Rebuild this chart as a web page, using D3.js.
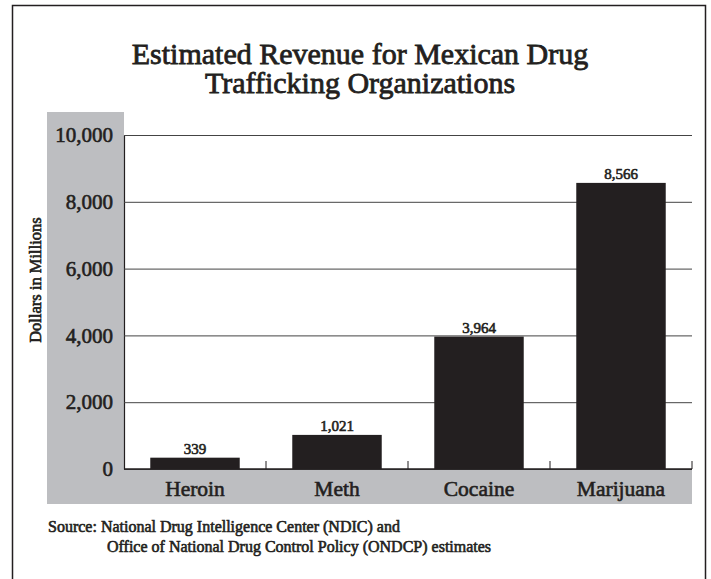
<!DOCTYPE html>
<html>
<head>
<meta charset="utf-8">
<script src="https://cdn.jsdelivr.net/npm/d3@7"></script>
<style>
  body { margin: 0; background: #fff; }
  svg { display: block; font-family: "Liberation Serif", serif; }
  /* regular face with a thin outline, close to the semibold of the original */
  .semi { stroke: #231f20; stroke-width: 0.6; }
  .title { stroke: #231f20; stroke-width: 0.8; }
</style>
</head>
<body>
<div id="chart"></div>
<script>
// data
const categories = ["Heroin", "Meth", "Cocaine", "Marijuana"];
const revenue = [339, 1021, 3964, 8566];
const yTicks = [0, 2000, 4000, 6000, 8000, 10000];
const titleLines = ["Estimated Revenue for Mexican Drug", "Trafficking Organizations"];
const sourceLines = ["Source:  National Drug Intelligence Center (NDIC) and",
  "Office of National Drug Control Policy (ONDCP) estimates"];

const width = 711, height = 579;
const margin = {top: 135, right: 19, bottom: 110, left: 124};
const ink = "#231f20", gray = "#bdbec1";

const svg = d3.select("#chart").append("svg")
  .attr("width", width)
  .attr("height", height);

// frame (bottom edge runs off the page)
svg.append("path")
  .attr("d", `M12.5,${height} V5.5 H705.5 V${height}`)
  .attr("fill", "none")
  .attr("stroke", ink)
  .attr("stroke-width", 1.5);

const x = d3.scaleBand()
  .domain(categories)
  .range([margin.left, width - margin.right])
  .paddingInner(0.37)
  .paddingOuter(0.185);

const y = d3.scaleLinear()
  .domain([0, 10000])
  .range([height - margin.bottom, margin.top]);

// gray bands behind the axes
svg.append("rect")
  .attr("x", 47).attr("y", 112)
  .attr("width", margin.left - 47)
  .attr("height", y(0) + 35 - 112)
  .attr("fill", gray);
svg.append("rect")
  .attr("x", 47).attr("y", y(0))
  .attr("width", width - margin.right - 47)
  .attr("height", 35)
  .attr("fill", gray);

// title, one text per line
svg.append("g")
  .selectAll("text")
  .data(titleLines)
  .join("text")
  .attr("class", "title")
  .attr("x", 360)
  .attr("y", (d, i) => 64 + i * 29)
  .attr("text-anchor", "middle")
  .attr("font-size", 30)
  .attr("fill", ink)
  .text(d => d);

// y gridlines + tick labels
const yAxis = d3.axisLeft(y)
  .tickValues(yTicks)
  .tickFormat(d3.format(","))
  .tickSize(-(width - margin.right - margin.left))
  .tickSizeOuter(0)
  .tickPadding(11);

svg.append("g")
  .attr("transform", `translate(${margin.left},0)`)
  .call(yAxis)
  .call(g => g.select(".domain").attr("stroke", ink).attr("stroke-width", 1.2))
  .call(g => g.selectAll(".tick line").attr("stroke", "#444").attr("stroke-width", 1))
  .call(g => g.selectAll(".tick text")
    .attr("class", "semi")
    .attr("font-size", 21)
    .attr("fill", ink)
    .attr("font-family", "Liberation Serif, serif"));

// x axis with ticks between categories
const xAxisY = y(0);
const boundaries = categories.map((c, i) => margin.left + (i + 1) * x.step());
svg.append("line")
  .attr("x1", margin.left).attr("x2", width - margin.right)
  .attr("y1", xAxisY).attr("y2", xAxisY)
  .attr("stroke", ink).attr("stroke-width", 1.5);
svg.append("g")
  .selectAll("line")
  .data(boundaries)
  .join("line")
  .attr("x1", d => d).attr("x2", d => d)
  .attr("y1", xAxisY).attr("y2", xAxisY - 8)
  .attr("stroke", ink).attr("stroke-width", 1);

// bars
svg.append("g")
  .selectAll("rect")
  .data(revenue)
  .join("rect")
  .attr("x", (d, i) => x(categories[i]))
  .attr("y", d => y(d))
  .attr("width", x.bandwidth())
  .attr("height", d => y(0) - y(d))
  .attr("fill", ink);

// value labels
svg.append("g")
  .selectAll("text")
  .data(revenue)
  .join("text")
  .attr("class", "semi")
  .attr("x", (d, i) => x(categories[i]) + x.bandwidth() / 2)
  .attr("y", d => y(d) - 4)
  .attr("text-anchor", "middle")
  .attr("font-size", 15)
  .attr("fill", ink)
  .text(d => d3.format(",")(d));

// category labels
svg.append("g")
  .selectAll("text")
  .data(categories)
  .join("text")
  .attr("class", "semi")
  .attr("x", d => x(d) + x.bandwidth() / 2)
  .attr("y", xAxisY + 27)
  .attr("text-anchor", "middle")
  .attr("font-size", 21.5)
  .attr("fill", ink)
  .text(d => d);

// y-axis title
svg.append("text")
  .attr("class", "semi")
  .attr("transform", "translate(41,280) rotate(-90)")
  .attr("text-anchor", "middle")
  .attr("font-size", 16.5)
  .attr("fill", ink)
  .text("Dollars in Millions");

// source note
svg.append("g")
  .selectAll("text")
  .data(sourceLines)
  .join("text")
  .attr("class", "semi")
  .attr("x", (d, i) => i === 0 ? 48 : 107)
  .attr("y", (d, i) => 532 + i * 20)
  .attr("font-size", 16)
  .attr("fill", ink)
  .text(d => d);
</script>
</body>
</html>
